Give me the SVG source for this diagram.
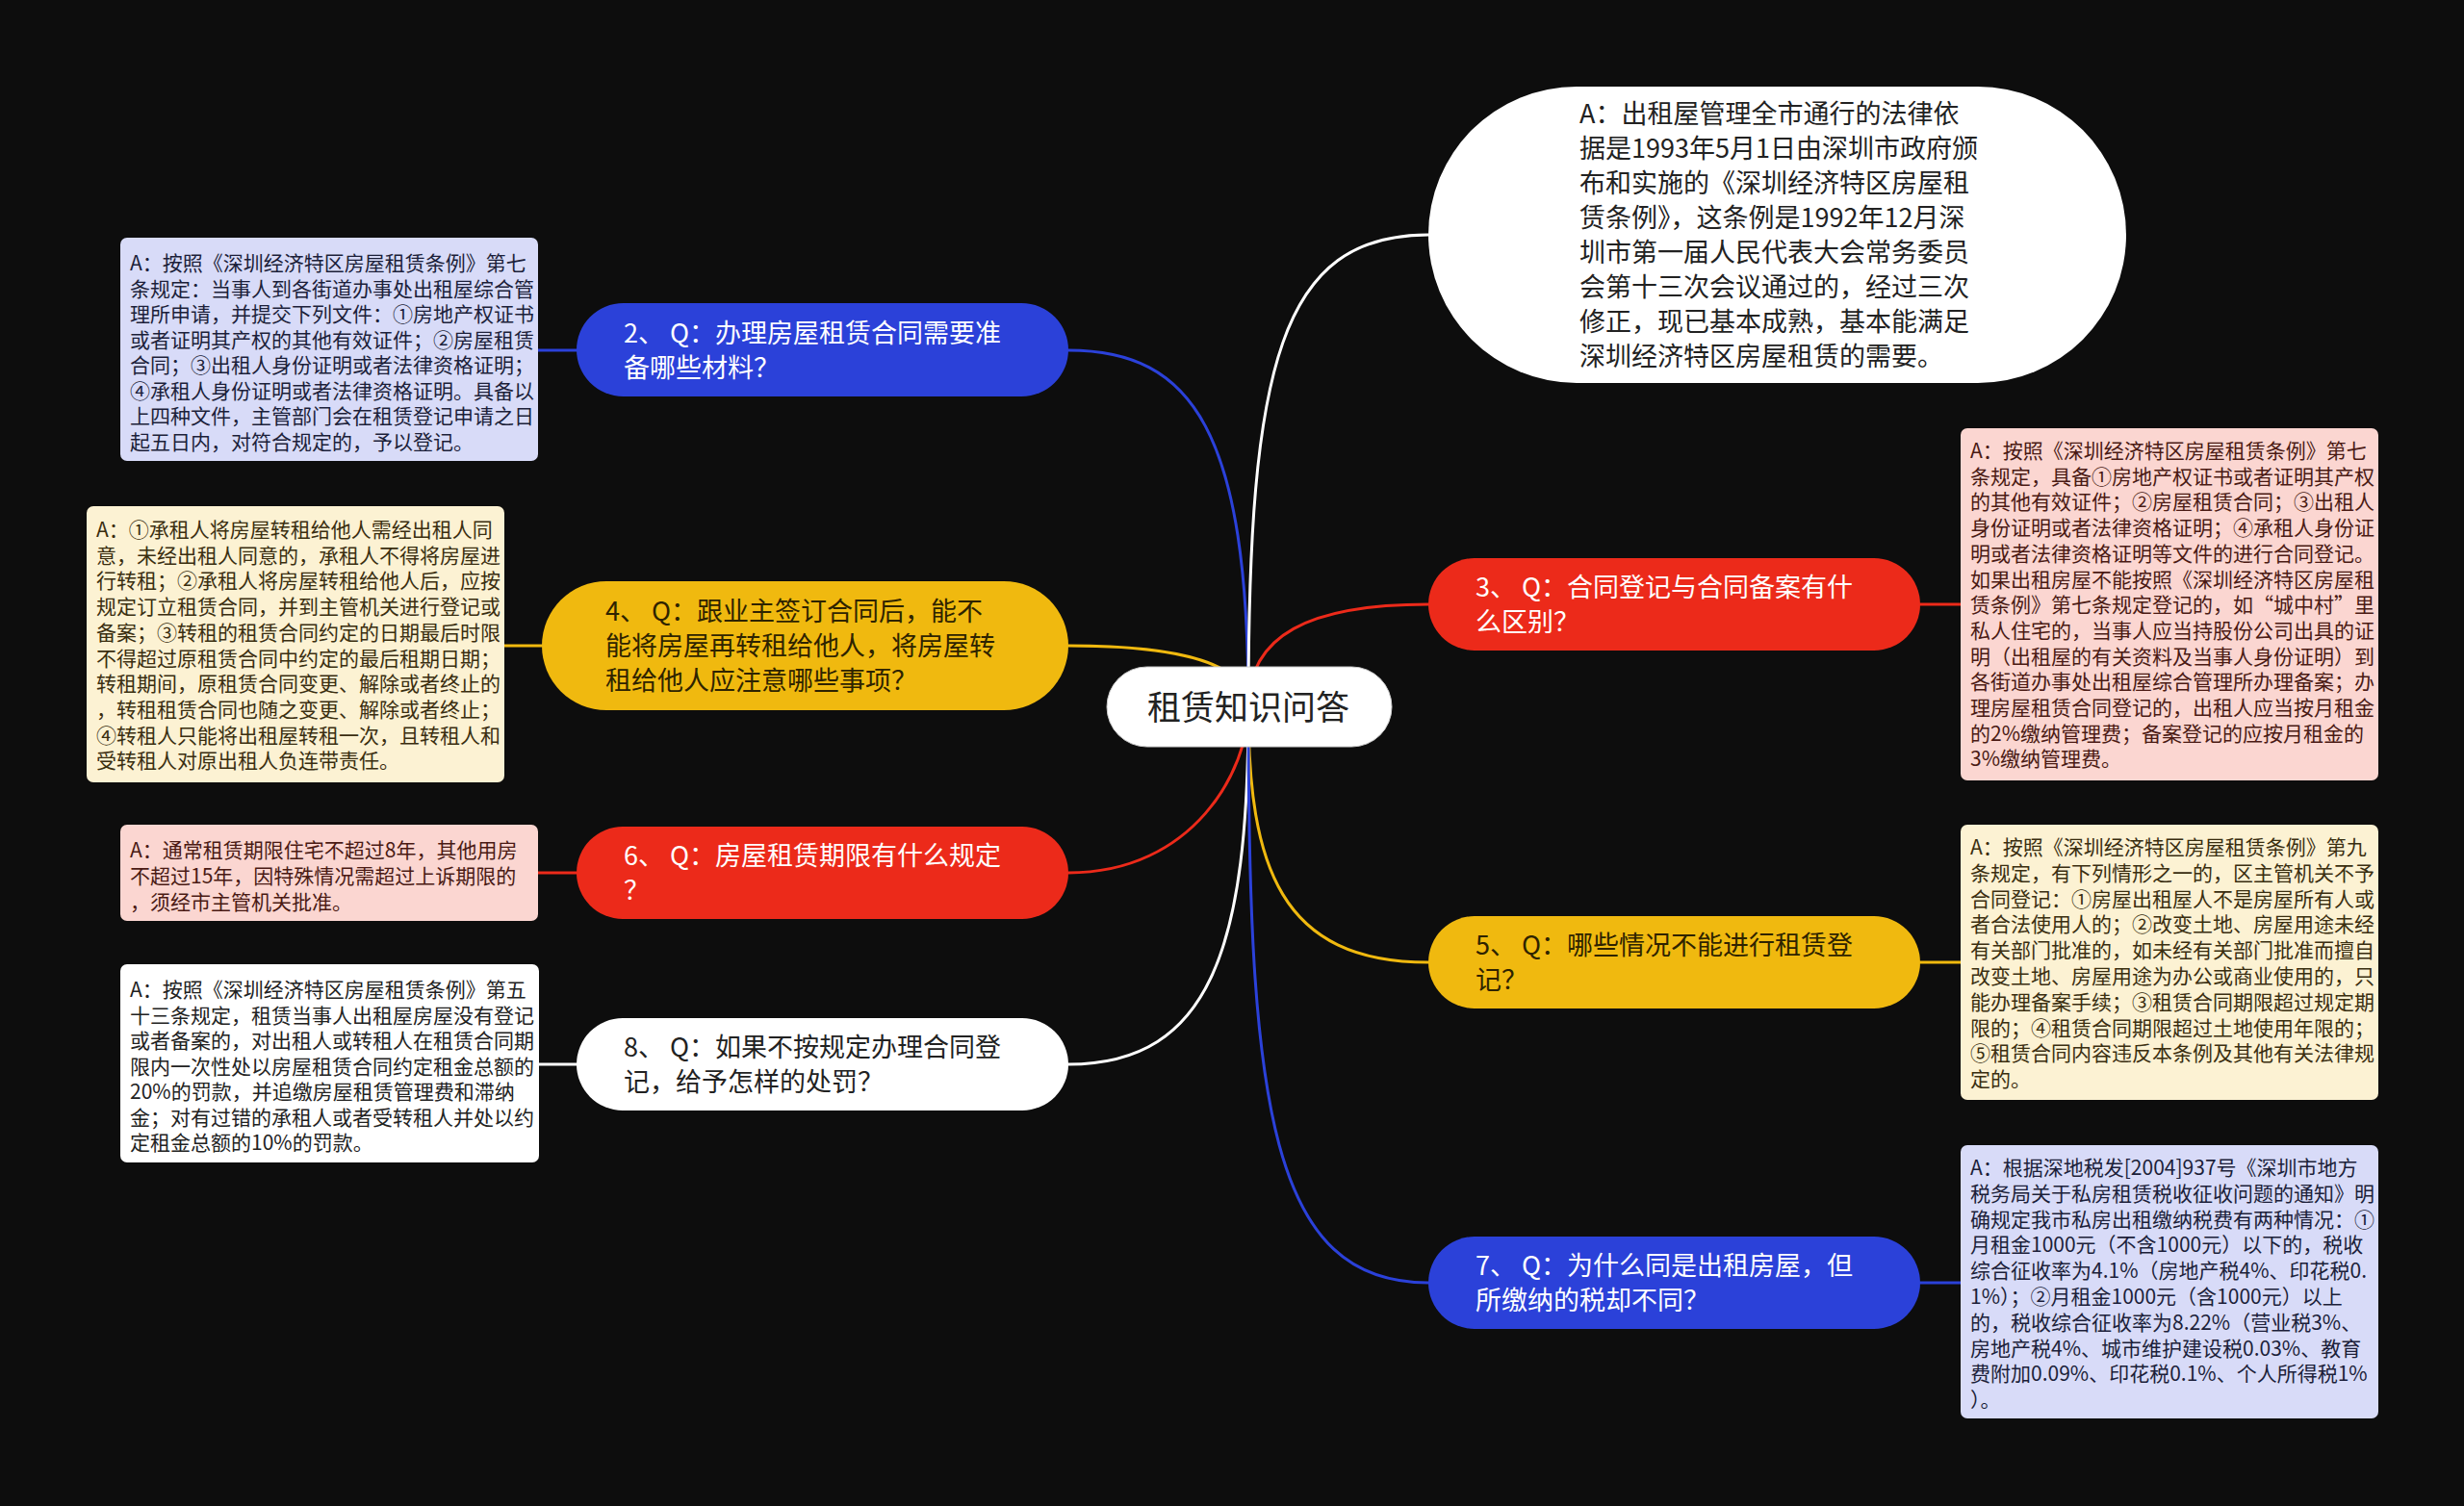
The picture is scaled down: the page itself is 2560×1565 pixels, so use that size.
<svg xmlns="http://www.w3.org/2000/svg" width="2560" height="1565" viewBox="0 0 2560 1565">
<style>
text{font-family:"Noto Sans CJK SC","Noto Sans",sans-serif}
.q{font-size:27px}
.d{font-size:21px}
.lt{fill:#ffffff}
.dk{fill:#222222}
.yk{fill:#2e2300}
.pk{fill:#4a1a14}
.ck{fill:#3a2e10}
.nk{fill:#1c1f3a}
.c{fill:none;stroke-width:3;stroke-linecap:round}
</style>
<rect x="0" y="0" width="2560" height="1565" fill="#0d0d0d"/>
<g id="connectors">
<path class="c" stroke="#2b41d9" d="M1297,735 C1297,450 1240,364 1110,364"/>
<path class="c" stroke="#ffffff" d="M1297,735 C1297,380 1330,244 1484,244"/>
<path class="c" stroke="#ec2a1a" d="M1297,735 C1297,660 1360,628 1484,628"/>
<path class="c" stroke="#f0b90f" d="M1297,735 C1297,690 1230,671 1110,671"/>
<path class="c" stroke="#ec2a1a" d="M1297,735 C1297,800 1240,907 1110,907"/>
<path class="c" stroke="#ffffff" d="M1297,735 C1297,980 1260,1106 1110,1106"/>
<path class="c" stroke="#f0b90f" d="M1297,735 C1297,900 1330,1000 1484,1000"/>
<path class="c" stroke="#2b41d9" d="M1297,735 C1297,1150 1320,1333 1484,1333"/>
<path class="c" stroke="#2b41d9" d="M599,364 L559,364"/>
<path class="c" stroke="#f0b90f" d="M563,671 L524,671"/>
<path class="c" stroke="#ec2a1a" d="M599,907 L559,907"/>
<path class="c" stroke="#ffffff" d="M599,1106 L560,1106"/>
<path class="c" stroke="#ec2a1a" d="M1995,628 L2037,628"/>
<path class="c" stroke="#f0b90f" d="M1995,1000 L2037,1000"/>
<path class="c" stroke="#2b41d9" d="M1995,1333 L2037,1333"/>
</g>
<g id="root">
<rect x="1150" y="693" width="296" height="83" rx="41.5" fill="#ffffff" stroke="#cccccc" stroke-width="1"/>
<text x="1297" y="748" font-size="35" text-anchor="middle" class="dk">租赁知识问答</text>
</g>
<g id="q1">
<rect x="1484" y="90" width="725" height="308" rx="154" fill="#ffffff"/>
<text class="q dk" x="1641"><tspan x="1641" y="128">A：出租屋管理全市通行的法律依</tspan><tspan x="1641" y="164">据是1993年5月1日由深圳市政府颁</tspan><tspan x="1641" y="200">布和实施的《深圳经济特区房屋租</tspan><tspan x="1641" y="236">赁条例》，这条例是1992年12月深</tspan><tspan x="1641" y="272">圳市第一届人民代表大会常务委员</tspan><tspan x="1641" y="308">会第十三次会议通过的，经过三次</tspan><tspan x="1641" y="344">修正，现已基本成熟，基本能满足</tspan><tspan x="1641" y="380">深圳经济特区房屋租赁的需要。</tspan></text>
</g>
<g id="q2">
<rect x="599" y="315" width="511" height="97" rx="48.5" fill="#2b41d9"/>
<text class="q lt"><tspan x="648" y="356">2、 Q：办理房屋租赁合同需要准</tspan><tspan x="648" y="392">备哪些材料？</tspan></text>
</g>
<g id="a2">
<rect x="125" y="247" width="434" height="232" rx="7" fill="#d8dbf8"/>
<text class="d nk"><tspan x="135" y="281">A：按照《深圳经济特区房屋租赁条例》第七</tspan><tspan x="135" y="307.5">条规定：当事人到各街道办事处出租屋综合管</tspan><tspan x="135" y="334">理所申请，并提交下列文件：①房地产权证书</tspan><tspan x="135" y="360.5">或者证明其产权的其他有效证件；②房屋租赁</tspan><tspan x="135" y="387">合同；③出租人身份证明或者法律资格证明；</tspan><tspan x="135" y="413.5">④承租人身份证明或者法律资格证明。具备以</tspan><tspan x="135" y="440">上四种文件，主管部门会在租赁登记申请之日</tspan><tspan x="135" y="466.5">起五日内，对符合规定的，予以登记。</tspan></text>
</g>
<g id="q4">
<rect x="563" y="604" width="547" height="134" rx="67" fill="#f0b90f"/>
<text class="q yk"><tspan x="629" y="645">4、 Q：跟业主签订合同后，能不</tspan><tspan x="629" y="681">能将房屋再转租给他人，将房屋转</tspan><tspan x="629" y="717">租给他人应注意哪些事项？</tspan></text>
</g>
<g id="a4">
<rect x="90" y="526" width="434" height="287" rx="7" fill="#fcf2d3"/>
<text class="d ck"><tspan x="100" y="558">A：①承租人将房屋转租给他人需经出租人同</tspan><tspan x="100" y="584.7">意，未经出租人同意的，承租人不得将房屋进</tspan><tspan x="100" y="611.4">行转租；②承租人将房屋转租给他人后，应按</tspan><tspan x="100" y="638.1">规定订立租赁合同，并到主管机关进行登记或</tspan><tspan x="100" y="664.8">备案；③转租的租赁合同约定的日期最后时限</tspan><tspan x="100" y="691.5">不得超过原租赁合同中约定的最后租期日期；</tspan><tspan x="100" y="718.2">转租期间，原租赁合同变更、解除或者终止的</tspan><tspan x="100" y="744.9">，转租租赁合同也随之变更、解除或者终止；</tspan><tspan x="100" y="771.6">④转租人只能将出租屋转租一次，且转租人和</tspan><tspan x="100" y="798.3">受转租人对原出租人负连带责任。</tspan></text>
</g>
<g id="q6">
<rect x="599" y="859" width="511" height="96" rx="48" fill="#ec2a1a"/>
<text class="q lt"><tspan x="648" y="899">6、 Q：房屋租赁期限有什么规定</tspan><tspan x="648" y="935">？</tspan></text>
</g>
<g id="a6">
<rect x="125" y="857" width="434" height="100" rx="7" fill="#fbd6d1"/>
<text class="d pk"><tspan x="135" y="891">A：通常租赁期限住宅不超过8年，其他用房</tspan><tspan x="135" y="918">不超过15年，因特殊情况需超过上诉期限的</tspan><tspan x="135" y="945">，须经市主管机关批准。</tspan></text>
</g>
<g id="q8">
<rect x="599" y="1058" width="511" height="96" rx="48" fill="#ffffff"/>
<text class="q dk"><tspan x="648" y="1098">8、 Q：如果不按规定办理合同登</tspan><tspan x="648" y="1134">记，给予怎样的处罚？</tspan></text>
</g>
<g id="a8">
<rect x="125" y="1002" width="435" height="206" rx="7" fill="#ffffff"/>
<text class="d dk"><tspan x="135" y="1036">A：按照《深圳经济特区房屋租赁条例》第五</tspan><tspan x="135" y="1062.5">十三条规定，租赁当事人出租屋房屋没有登记</tspan><tspan x="135" y="1089">或者备案的，对出租人或转租人在租赁合同期</tspan><tspan x="135" y="1115.5">限内一次性处以房屋租赁合同约定租金总额的</tspan><tspan x="135" y="1142">20%的罚款，并追缴房屋租赁管理费和滞纳</tspan><tspan x="135" y="1168.5">金；对有过错的承租人或者受转租人并处以约</tspan><tspan x="135" y="1195">定租金总额的10%的罚款。</tspan></text>
</g>
<g id="q3">
<rect x="1484" y="580" width="511" height="96" rx="48" fill="#ec2a1a"/>
<text class="q lt"><tspan x="1533" y="620">3、 Q：合同登记与合同备案有什</tspan><tspan x="1533" y="656">么区别？</tspan></text>
</g>
<g id="a3">
<rect x="2037" y="445" width="434" height="366" rx="7" fill="#fbd6d1"/>
<text class="d pk"><tspan x="2047" y="476">A：按照《深圳经济特区房屋租赁条例》第七</tspan><tspan x="2047" y="502.7">条规定，具备①房地产权证书或者证明其产权</tspan><tspan x="2047" y="529.4">的其他有效证件；②房屋租赁合同；③出租人</tspan><tspan x="2047" y="556.1">身份证明或者法律资格证明；④承租人身份证</tspan><tspan x="2047" y="582.8">明或者法律资格证明等文件的进行合同登记。</tspan><tspan x="2047" y="609.5">如果出租房屋不能按照《深圳经济特区房屋租</tspan><tspan x="2047" y="636.2">赁条例》第七条规定登记的，如“城中村”里</tspan><tspan x="2047" y="662.9">私人住宅的，当事人应当持股份公司出具的证</tspan><tspan x="2047" y="689.6">明（出租屋的有关资料及当事人身份证明）到</tspan><tspan x="2047" y="716.3">各街道办事处出租屋综合管理所办理备案；办</tspan><tspan x="2047" y="743">理房屋租赁合同登记的，出租人应当按月租金</tspan><tspan x="2047" y="769.7">的2%缴纳管理费；备案登记的应按月租金的</tspan><tspan x="2047" y="796.4">3%缴纳管理费。</tspan></text>
</g>
<g id="q5">
<rect x="1484" y="952" width="511" height="96" rx="48" fill="#f0b90f"/>
<text class="q yk"><tspan x="1533" y="992">5、 Q：哪些情况不能进行租赁登</tspan><tspan x="1533" y="1028">记？</tspan></text>
</g>
<g id="a5">
<rect x="2037" y="857" width="434" height="286" rx="7" fill="#fcf2d3"/>
<text class="d ck"><tspan x="2047" y="888">A：按照《深圳经济特区房屋租赁条例》第九</tspan><tspan x="2047" y="914.8">条规定，有下列情形之一的，区主管机关不予</tspan><tspan x="2047" y="941.6">合同登记：①房屋出租屋人不是房屋所有人或</tspan><tspan x="2047" y="968.4">者合法使用人的；②改变土地、房屋用途未经</tspan><tspan x="2047" y="995.2">有关部门批准的，如未经有关部门批准而擅自</tspan><tspan x="2047" y="1022">改变土地、房屋用途为办公或商业使用的，只</tspan><tspan x="2047" y="1048.8">能办理备案手续；③租赁合同期限超过规定期</tspan><tspan x="2047" y="1075.6">限的；④租赁合同期限超过土地使用年限的；</tspan><tspan x="2047" y="1102.4">⑤租赁合同内容违反本条例及其他有关法律规</tspan><tspan x="2047" y="1129.2">定的。</tspan></text>
</g>
<g id="q7">
<rect x="1484" y="1285" width="511" height="96" rx="48" fill="#2b41d9"/>
<text class="q lt"><tspan x="1533" y="1325">7、 Q：为什么同是出租房屋，但</tspan><tspan x="1533" y="1361">所缴纳的税却不同？</tspan></text>
</g>
<g id="a7">
<rect x="2037" y="1190" width="434" height="284" rx="7" fill="#d8dbf8"/>
<text class="d nk"><tspan x="2047" y="1221">A：根据深地税发[2004]937号《深圳市地方</tspan><tspan x="2047" y="1247.8">税务局关于私房租赁税收征收问题的通知》明</tspan><tspan x="2047" y="1274.6">确规定我市私房出租缴纳税费有两种情况：①</tspan><tspan x="2047" y="1301.4">月租金1000元（不含1000元）以下的，税收</tspan><tspan x="2047" y="1328.2">综合征收率为4.1%（房地产税4%、印花税0.</tspan><tspan x="2047" y="1355">1%）；②月租金1000元（含1000元）以上</tspan><tspan x="2047" y="1381.8">的，税收综合征收率为8.22%（营业税3%、</tspan><tspan x="2047" y="1408.6">房地产税4%、城市维护建设税0.03%、教育</tspan><tspan x="2047" y="1435.4">费附加0.09%、印花税0.1%、个人所得税1%</tspan><tspan x="2047" y="1462.2">）。</tspan></text>
</g>
</svg>
